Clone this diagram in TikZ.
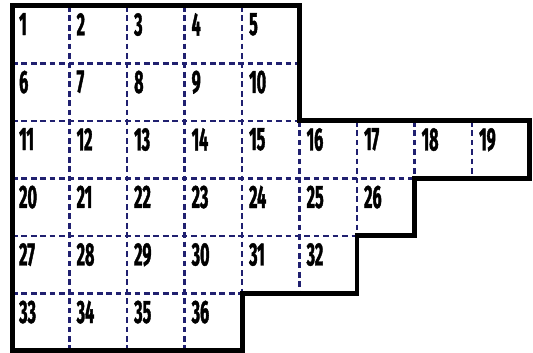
\documentclass[tikz,border=0pt]{standalone}
\usepackage{fontspec}
\usepackage{xcolor}
\usepackage{tikz}
\newfontfamily\cellfont[FakeStretch=0.5, FakeBold=1.2]{Fira Sans}
\definecolor{gridnavy}{RGB}{32,32,112}

\begin{document}
\begin{tikzpicture}[x=1.5cm, y=1.5cm]
    % Styles:
    \tikzset{cellnum/.style={anchor=north west, inner sep=0pt, font=\cellfont\bfseries\fontsize{24}{24}\selectfont}}
    \tikzset{innerline/.style={draw=gridnavy, line width=1.7pt, dash pattern=on 4.2pt off 2.8pt}}
    \tikzset{outline/.style={draw=black, line width=3.7pt, line join=miter}}

    \useasboundingbox (-0.209,0.104) rectangle (9.061,-6.035);

    % Inner dashed lines:
    \draw[innerline] (0,-1) -- (5,-1);
    \draw[innerline] (0,-2) -- (5,-2);
    \draw[innerline] (0,-3) -- (7,-3);
    \draw[innerline] (0,-4) -- (6,-4);
    \draw[innerline] (0,-5) -- (4,-5);
    \foreach \i in {1,...,4} {
        \draw[innerline] (\i,0) -- (\i,-6);
    }
    \draw[innerline] (5,-2) -- (5,-5);
    \draw[innerline] (6,-2) -- (6,-4);
    \draw[innerline] (7,-2) -- (7,-3);
    \draw[innerline] (8,-2) -- (8,-3);

    % Outer border:
    \draw[outline] (0,0) -- (5,0) -- (5,-2) -- (9,-2) -- (9,-3) -- (7,-3)
        -- (7,-4) -- (6,-4) -- (6,-5) -- (4,-5) -- (4,-6) -- (0,-6) -- cycle;

    % Cell numbers (row / width / first number):
    \foreach \r/\w/\s in {0/5/1, 1/5/6, 2/9/11, 3/7/20, 4/6/27, 5/4/33} {
        \foreach \c in {1,...,\w} {
            \pgfmathtruncatemacro\n{\s+\c-1}
            \node[cellnum] (c\n) at (\c-1+0.12, -\r-0.12) {\n};
        }
    }
\end{tikzpicture}
\end{document}
